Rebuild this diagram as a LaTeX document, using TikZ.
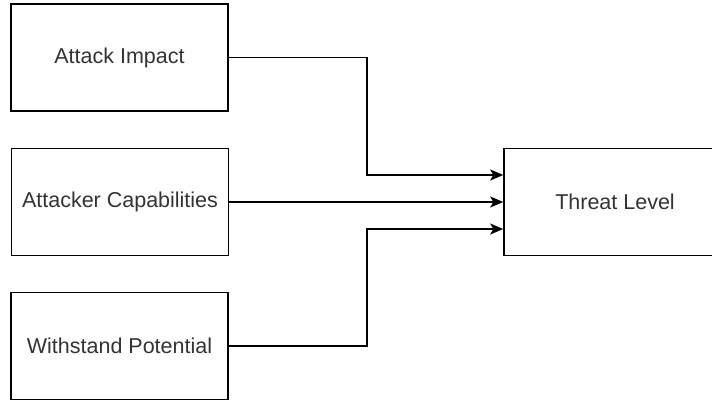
\documentclass[tikz,border=0pt]{standalone}
\usepackage{fontspec}
\setmainfont{Liberation Sans}
\usetikzlibrary{arrows.meta}

\tikzset{
  box/.style={draw, line width=1.5pt, minimum width=217pt, minimum height=107pt, inner sep=0pt,
    font=\fontsize{21.5}{26}\selectfont, text=black!80},
  link/.style={line width=1.5pt, -{Stealth[length=13pt,width=11pt,inset=3pt]}}
}

\begin{document}
\begin{tikzpicture}[x=1pt,y=-1pt]
\useasboundingbox (0,0) rectangle (712,402);
\clip (0,0) rectangle (712,402);

\node[box] (impact) at (119.5,57.5) {Attack Impact};
\node[box] (capab) at (120,202) {Attacker Capabilities};
\node[box] (withstand) at (119.5,346) {Withstand Potential};
\node[box, minimum width=222pt] (threat) at (615,202) {Threat Level};

\draw[link] (impact.east) -- ++(138,0) |- ([yshift=27pt]threat.west);
\draw[link] (capab.east) -- (threat.west);
\draw[link] (withstand.east) -- ++(138,0) |- ([yshift=-27pt]threat.west);

\end{tikzpicture}
\end{document}
